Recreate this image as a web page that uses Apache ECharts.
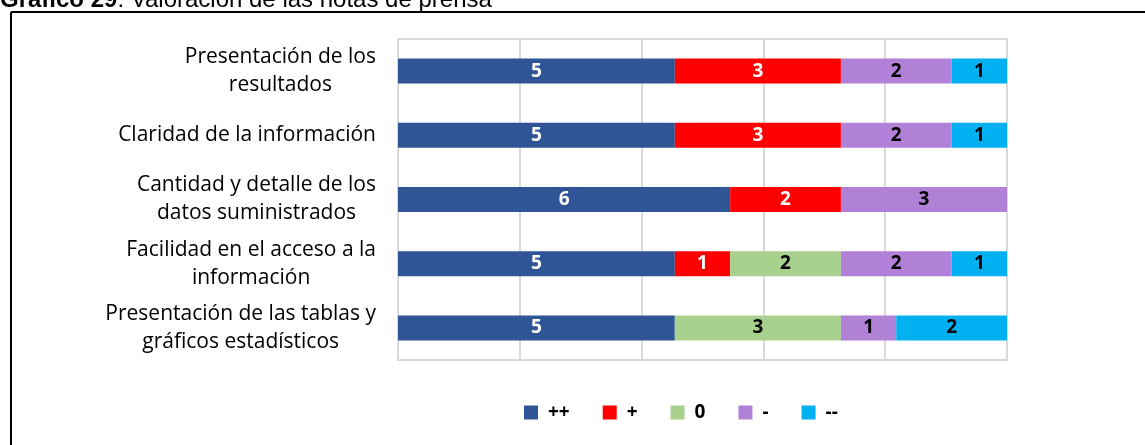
<!DOCTYPE html>
<html>
<head>
    <meta charset="utf-8" />
    <title>Gráfico 29</title>
    <script src="https://cdn.jsdelivr.net/npm/echarts@6/dist/echarts.min.js"></script>
    <style type="text/css">
        body { margin: 0; padding: 0; background-color: #fff; overflow: hidden; }
        #main { width: 1145px; height: 445px; }
    </style>
</head>
<body>
    <div id="main"></div>
    <script type="text/javascript">
        // categorias (de arriba hacia abajo)
        var categories = [
            'Presentación de los\nresultados',
            'Claridad de la información',
            'Cantidad y detalle de los\ndatos suministrados',
            'Facilidad en el acceso a la\ninformación',
            'Presentación de las tablas y\ngráficos estadísticos'
        ];
        var seriesNames = ['++', '+', '0', '-', '--'];
        var valMasMas = [5, 5, 6, 5, 5];
        var valMas = [3, 3, 2, 1, 0];
        var valCero = [0, 0, 0, 2, 3];
        var valMenos = [2, 2, 3, 2, 1];
        var valMenosMenos = [1, 1, 0, 1, 2];

        var colors = ['#2F5597', '#FF0000', '#A9D18E', '#B180D7', '#00B0F0'];
        var labelColors = ['#ffffff', '#ffffff', '#000000', '#000000', '#000000'];
        var allValues = [valMasMas, valMas, valCero, valMenos, valMenosMenos];

        var myChart = echarts.init(document.getElementById('main'));

        var series = allValues.map(function (vals, i) {
            return {
                name: seriesNames[i],
                type: 'bar',
                stack: 'total',
                barWidth: 25,
                data: vals,
                itemStyle: { color: colors[i] },
                label: {
                    show: true,
                    position: 'inside',
                    color: labelColors[i],
                    fontFamily: 'Open Sans',
                    fontWeight: 'bold',
                    fontSize: 19,
                    formatter: function (p) { return p.value ? String(p.value) : ''; }
                }
            };
        });

        var option = {
            animation: false,
            color: colors,
            graphic: [
                // recuadro exterior
                { type: 'line', shape: { x1: 11, y1: 12, x2: 1150, y2: 12 }, style: { stroke: '#000', lineWidth: 2 } },
                { type: 'line', shape: { x1: 11, y1: 12, x2: 11, y2: 450 }, style: { stroke: '#000', lineWidth: 2 } },
                {
                    type: 'text', left: 0, top: -12,
                    style: {
                        text: '{b|Gráfico 29}{n|: Valoración de las notas de prensa}',
                        rich: {
                            b: { fontFamily: 'Liberation Sans', fontSize: 24, fontWeight: 'bold', fill: '#000' },
                            n: { fontFamily: 'Liberation Sans', fontSize: 24, fill: '#000' }
                        }
                    }
                }
            ],
            grid: {
                left: 398, right: 138, top: 39, bottom: 85,
                show: true, borderColor: '#D9D9D9', borderWidth: 2
            },
            legend: {
                data: seriesNames,
                top: 398,
                left: 519,
                icon: 'rect',
                itemWidth: 14,
                itemHeight: 14,
                itemGap: 33,
                textStyle: { fontFamily: 'Open Sans', fontWeight: 'bold', fontSize: 19, color: '#000', padding: [0, 0, 0, 5] }
            },
            xAxis: {
                type: 'value',
                min: 0,
                max: 11,
                interval: 2.2,
                axisLabel: { show: false },
                axisLine: { show: false },
                axisTick: { show: false },
                splitLine: { show: true, lineStyle: { color: '#D9D9D9', width: 2 } }
            },
            yAxis: {
                type: 'category',
                data: categories,
                inverse: true,
                axisLine: { show: false },
                axisTick: { show: false },
                axisLabel: {
                    margin: 22,
                    align: 'right',
                    formatter: function (v) {
                        return v.split('\n').map(function (l) { return '{c|' + l + '}'; }).join('\n');
                    },
                    rich: {
                        c: { align: 'center', fontFamily: 'Open Sans', fontSize: 21, color: '#000', lineHeight: 28 }
                    }
                }
            },
            series: series
        };
        myChart.setOption(option);
    </script>
</body>
</html>
